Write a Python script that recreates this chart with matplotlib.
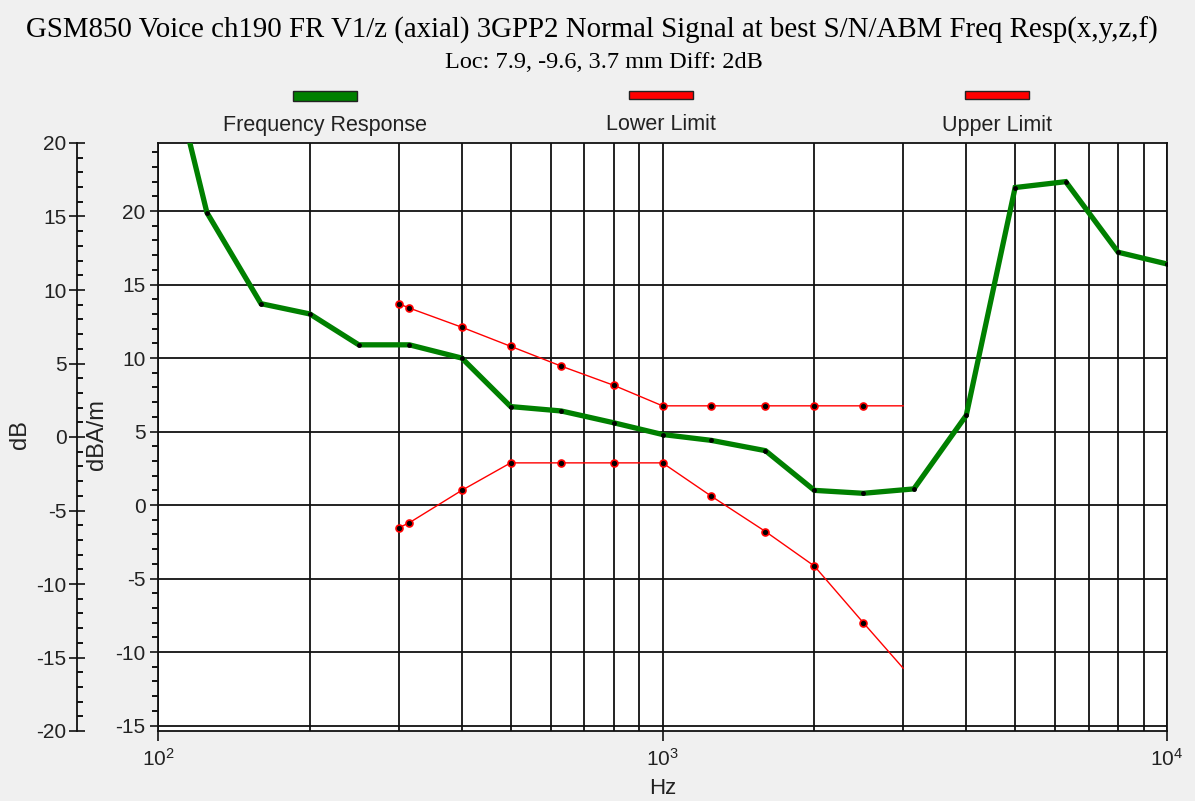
import matplotlib.pyplot as plt
from matplotlib.patches import Rectangle
from matplotlib.ticker import MultipleLocator, LogLocator, NullFormatter

plt.rcParams['font.family'] = ['Liberation Sans', 'DejaVu Sans']
plt.rcParams['axes.unicode_minus'] = False

# third-octave frequencies and measured response (dBA/m)
freqs = [100, 125, 160, 200, 250, 315, 400, 500, 630, 800, 1000, 1250,
         1600, 2000, 2500, 3150, 4000, 5000, 6300, 8000, 10000]
resp = [33.5, 19.9, 13.7, 13.0, 10.9, 10.9, 10.0, 6.7, 6.4, 5.6, 4.8, 4.4,
        3.7, 1.0, 0.8, 1.1, 6.1, 21.6, 22.0, 17.2, 16.4]

lim_freqs = [300, 315, 400, 500, 630, 800, 1000, 1250, 1600, 2000, 2500, 3000]
lower = [-1.55, -1.2, 1.0, 2.87, 2.87, 2.87, 2.87, 0.6, -1.8, -4.15, -8.0, -11.1]
upper = [13.7, 13.4, 12.1, 10.8, 9.45, 8.15, 6.75, 6.75, 6.75, 6.75, 6.75, 6.75]

legend_names = ['Frequency Response', 'Lower Limit', 'Upper Limit']
legend_colors = ['#008000', '#ff0000', '#ff0000']

W, H = 1195, 801
fig = plt.figure(figsize=(W/100, H/100), dpi=100, facecolor='#f0f0f0')

pos = [158/W, 1-731/H, (1167-158)/W, (731-143)/H]
ax = fig.add_axes(pos)
ax.set_facecolor('white')

ax.plot(freqs, resp, color='#008000', lw=3.8, solid_joinstyle='miter',
        marker='o', ms=2.5, mfc='k', mec='k', zorder=4)
mk = list(range(len(lim_freqs)-1))
ax.plot(lim_freqs, lower, color='#ff0000', lw=1, marker='o', ms=5,
        mfc='k', mec='#ff0000', mew=1.2, markevery=mk, zorder=3)
ax.plot(lim_freqs, upper, color='#ff0000', lw=1, marker='o', ms=5,
        mfc='k', mec='#ff0000', mew=1.2, markevery=mk, zorder=3)

ax.set_xscale('log')
ax.set_xlim(100, 10000)
ax.set_ylim(-15.37, 24.63)
ax.xaxis.set_major_locator(LogLocator(base=10, numticks=5))
ax.xaxis.set_minor_locator(LogLocator(base=10, subs=range(2, 10), numticks=20))
ax.xaxis.set_minor_formatter(NullFormatter())
ax.yaxis.set_major_locator(MultipleLocator(5))
ax.yaxis.set_minor_locator(MultipleLocator(1))
ax.grid(which='major', color='#111111', lw=1.3)
ax.grid(which='minor', axis='x', color='#111111', lw=1.3)
ax.set_axisbelow(True)
ax.tick_params(axis='x', which='major', direction='out', length=7, width=1.3,
               labelsize=15, pad=5, colors='#222222')
ax.tick_params(axis='x', which='minor', length=0)
ax.tick_params(axis='y', which='major', direction='out', length=6, width=1.3,
               labelsize=15, pad=3, colors='#222222')
ax.tick_params(axis='y', which='minor', direction='out', length=4.5, width=1.3)
for s in ax.spines.values():
    s.set_linewidth(1.3)
    s.set_color('#111111')

# outer dB axis, 81 px left of the plot
ax2 = fig.add_axes(pos)
ax2.patch.set_visible(False)
ax2.set_xticks([])
ax2.set_ylim(-20, 20)
for side in ['top', 'right', 'bottom']:
    ax2.spines[side].set_visible(False)
ax2.spines['left'].set_position(('outward', 81*0.72))
ax2.spines['left'].set_linewidth(1.3)
ax2.spines['left'].set_color('#111111')
ax2.yaxis.set_major_locator(MultipleLocator(5))
ax2.yaxis.set_minor_locator(MultipleLocator(1))
ax2.tick_params(axis='y', which='major', direction='inout', length=11, width=1.3,
                labelsize=15, pad=2, colors='#222222')
ax2.tick_params(axis='y', which='minor', direction='in', length=4.5, width=1.3)

fig.text(20/W, 1-435/H, 'dB', rotation=90, ha='center', va='center',
         fontsize=17, color='#222222')
fig.text(97/W, 1-435/H, 'dBA/m', rotation=90, ha='center', va='center',
         fontsize=17, color='#222222')
fig.text(663/W, 1-789/H, 'Hz', ha='center', va='center', fontsize=16,
         color='#222222')

fig.text(592/W, 1-30/H, 'GSM850 Voice ch190 FR V1/z (axial) 3GPP2 Normal Signal at best S/N/ABM Freq Resp(x,y,z,f)',
         ha='center', va='center', fontsize=20.8, family='Liberation Serif')
fig.text(604/W, 1-62/H, 'Loc: 7.9, -9.6, 3.7 mm Diff: 2dB',
         ha='center', va='center', fontsize=17.5, family='Liberation Serif')

# legend: patch above label
for i, (name, c) in enumerate(zip(legend_names, legend_colors)):
    cx = 325 + 336*i
    h = 10 if i == 0 else 8
    fig.patches.append(Rectangle(((cx-32)/W, 1-(91+h)/H), 64/W, h/H,
                                 transform=fig.transFigure, facecolor=c,
                                 edgecolor='#222222', lw=1))
    fig.text(cx/W, 1-125/H, name, ha='center', va='center', fontsize=15.5,
             color='#222222')

fig.savefig('out.png', dpi=100, facecolor=fig.get_facecolor())
